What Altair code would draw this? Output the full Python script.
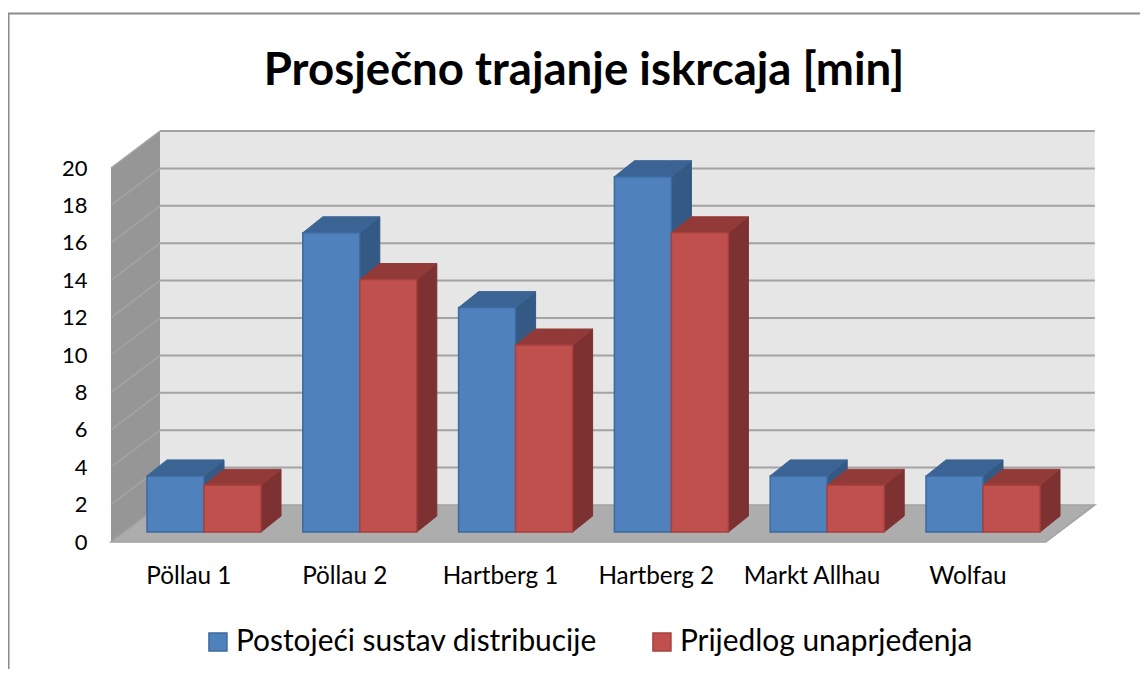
import altair as alt
import pandas as pd

categories = ["Pöllau 1", "Pöllau 2", "Hartberg 1", "Hartberg 2", "Markt Allhau", "Wolfau"]
series_names = ["Postojeći sustav distribucije", "Prijedlog unaprjeđenja"]
postojeci = [3, 16, 12, 19, 3, 3]
prijedlog = [2.5, 13.5, 10, 16, 2.5, 2.5]
y_ticks = list(range(0, 21, 2))

# projection of the 3-D box, in axis units (1 slot = one category, y = value)
SLOT_PX, UNIT_PX = 155.8, 18.7
DEPTH_X, DEPTH_Y = 49 / SLOT_PX, 37 / UNIT_PX
BAR_X0, BAR_Y0 = 15.1 / SLOT_PX, 10 / UNIT_PX
BAR_W = 57 / SLOT_PX
BAR_DX, BAR_DY = 20 / SLOT_PX, 16 / UNIT_PX
BLUE, BLUE_E, BLUE_T, BLUE_S = "#4f81bd", "#3d6a9e", "#3b6494", "#345985"
RED, RED_E, RED_T, RED_S = "#c0504d", "#a8403e", "#913a38", "#7d3130"

W, H = 1132, 661
x_scale = alt.Scale(domain=[-103 / SLOT_PX, 1029 / SLOT_PX], nice=False, zero=False)
y_scale = alt.Scale(domain=[-127 / UNIT_PX, 534 / UNIT_PX], nice=False, zero=False)
color_scale = alt.Scale(domain=series_names, range=[BLUE, RED])
stroke_scale = alt.Scale(domain=series_names, range=[BLUE_E, RED_E])


def X(f="x"):
    return alt.X(f"{f}:Q", scale=x_scale, axis=None)


def Y(f="y"):
    return alt.Y(f"{f}:Q", scale=y_scale, title=None, axis=alt.Axis(
        values=y_ticks, ticks=False, domain=False, grid=False, labelPadding=-79,
        labelFont="Lato", labelFontSize=22, labelColor="#000000"))


def faces(values, k):
    front, side, top = [], [], []
    for i, (c, v) in enumerate(zip(categories, values)):
        x0 = i + 0.5 + BAR_X0 + (k - 1) * BAR_W
        x1 = x0 + BAR_W
        yb, yt = BAR_Y0, BAR_Y0 + v
        front.append({"cat": c, "x": x0, "x2": x1, "y": yb, "y2": yt, "s": series_names[k]})
        side += [
            {"cat": c, "x": x1, "y": yb, "y2": yt},
            {"cat": c, "x": x1 + BAR_DX, "y": yb + BAR_DY, "y2": yt + BAR_DY},
        ]
        top += [
            {"cat": c, "x": x0, "y": yt, "y2": yt},
            {"cat": c, "x": x0 + BAR_DX, "y": yt, "y2": yt + BAR_DY},
            {"cat": c, "x": x1, "y": yt, "y2": yt + BAR_DY},
            {"cat": c, "x": x1 + BAR_DX, "y": yt + BAR_DY, "y2": yt + BAR_DY},
        ]
    return pd.DataFrame(front), pd.DataFrame(side), pd.DataFrame(top)


n = len(categories)
legend = alt.Legend(
    title=None, orient="none", legendX=195, legendY=619, columns=2, columnPadding=50,
    symbolType="square", symbolSize=324, symbolStrokeWidth=1.5, symbolOpacity=1,
    labelFont="Lato", labelFontSize=29.9, labelColor="#000000", labelOffset=3, labelLimit=500,
)

# walls and floor
back = alt.Chart(pd.DataFrame([{"x": DEPTH_X, "x2": n + DEPTH_X, "y": DEPTH_Y, "y2": 20 + DEPTH_Y}])).mark_rect(
    color="#e6e6e6").encode(x=X(), x2="x2:Q", y=Y(), y2="y2:Q")
grid_df = pd.DataFrame({"v": y_ticks})
grid_df["b"] = grid_df["v"] + DEPTH_Y
grid_df["x"] = DEPTH_X
grid_df["x2"] = n + DEPTH_X
grid_df["x0"] = 0.0
back_grid = alt.Chart(grid_df[grid_df.v > 0]).mark_rule(color="#a3a3a3", strokeWidth=2).encode(
    x=X(), x2="x2:Q", y=Y("b"))
left_wall = alt.Chart(pd.DataFrame([
    {"x": 0, "y": 0, "y2": 20}, {"x": DEPTH_X, "y": DEPTH_Y, "y2": 20 + DEPTH_Y}
])).mark_area(color="#969696", line=False).encode(x=X(), y=Y(), y2="y2:Q")
left_grid = alt.Chart(grid_df[grid_df.v > 0]).mark_rule(color="#a4a4a4", strokeWidth=1.5).encode(
    x=X("x0"), x2="x:Q", y=Y("v"), y2="b:Q")
floor = alt.Chart(pd.DataFrame([
    {"x": 0, "y": 0, "y2": 0},
    {"x": DEPTH_X, "y": 0, "y2": DEPTH_Y},
    {"x": n, "y": 0, "y2": DEPTH_Y},
    {"x": n + DEPTH_X, "y": DEPTH_Y, "y2": DEPTH_Y},
])).mark_area(color="#adadad", stroke="#a2a2a2", strokeWidth=1.5).encode(x=X(), y=Y(), y2="y2:Q")

layers = [back, back_grid, left_wall, left_grid, floor]
for k, (vals, ec, tc, sc) in enumerate([(postojeci, BLUE_E, BLUE_T, BLUE_S), (prijedlog, RED_E, RED_T, RED_S)]):
    fr, si, to = faces(vals, k)
    layers.append(alt.Chart(si).mark_area(color=sc, stroke=sc, strokeWidth=1).encode(
        x=X(), y=Y(), y2="y2:Q", detail="cat:N"))
    layers.append(alt.Chart(to).mark_area(color=tc, stroke=tc, strokeWidth=1).encode(
        x=X(), y=Y(), y2="y2:Q", detail="cat:N"))
    layers.append(alt.Chart(fr).mark_bar(strokeWidth=1.5, opacity=1).encode(
        x=X(), x2="x2:Q", y=Y(), y2="y2:Q",
        color=alt.Color("s:N", scale=color_scale, legend=legend),
        stroke=alt.Stroke("s:N", scale=stroke_scale, legend=legend)))

# category labels
lab = pd.DataFrame({"c": categories, "x": [i + 0.5 for i in range(n)]})
layers.append(alt.Chart(lab).mark_text(font="Lato", fontSize=24.3, color="#000000").encode(
    x=X(), y=alt.value(577 - 8), text="c:N"))

# outer frame (top and left edges)
layers.append(alt.Chart(pd.DataFrame({"a": [0]})).mark_rule(color="#8c8c8c", strokeWidth=2).encode(
    x=alt.value(0), x2=alt.value(W), y=alt.value(5.5)))
layers.append(alt.Chart(pd.DataFrame({"a": [0]})).mark_rule(color="#8c8c8c", strokeWidth=2).encode(
    x=alt.value(0.5), y=alt.value(5), y2=alt.value(H)))

chart = alt.layer(*layers).properties(
    width=W, height=H,
    title=alt.TitleParams(
        "Prosječno trajanje iskrcaja [min]", anchor="middle", font="Lato", fontWeight="bold",
        fontSize=45.6, color="#000000", dx=10, dy=91),
    padding=0, autosize=alt.AutoSizeParams(type="none"),
).configure_view(stroke=None).resolve_scale(color="shared")

chart.save("out.html", embed_options={"renderer": "svg", "actions": False})
